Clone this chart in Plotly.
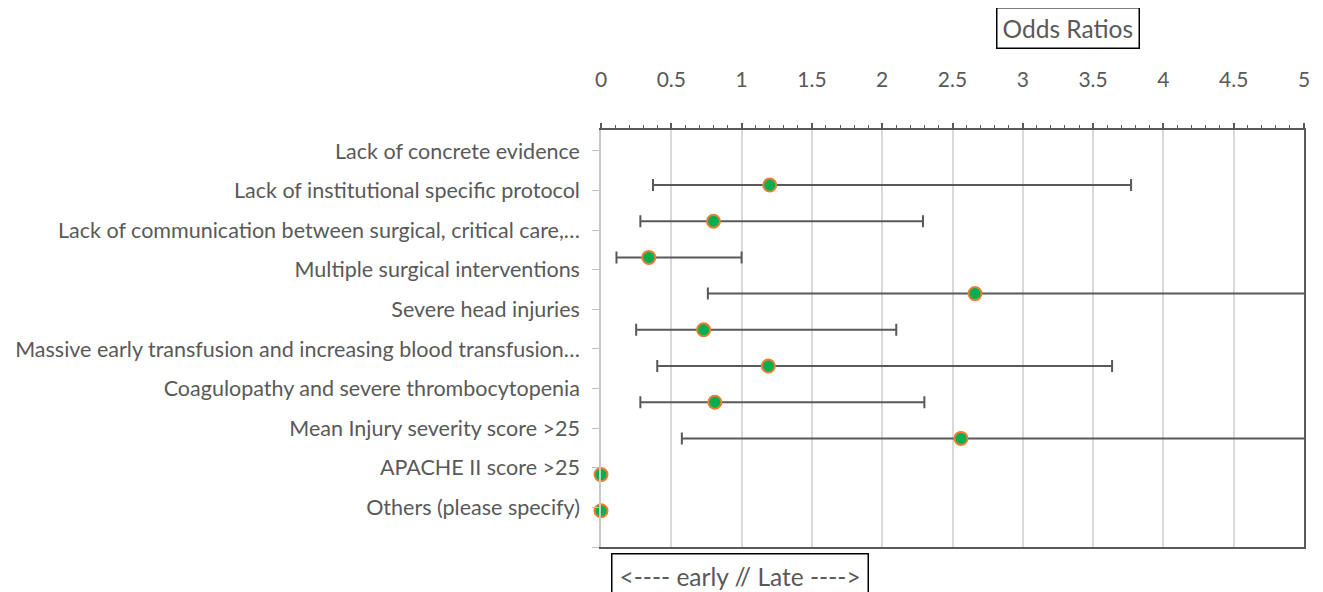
import plotly.graph_objects as go

categories = [
    "Lack of concrete evidence",
    "Lack of institutional specific protocol",
    "Lack of communication between surgical, critical care,…",
    "Multiple surgical interventions",
    "Severe head injuries",
    "Massive early transfusion and increasing blood transfusion…",
    "Coagulopathy and severe thrombocytopenia",
    "Mean Injury severity score >25",
    "APACHE II score >25",
    "Others (please specify)",
]
odds_ratio = [1.20, 0.80, 0.34, 2.66, 0.73, 1.19, 0.81, 2.56, 0.0, 0.0]
ci_lower = [0.37, 0.28, 0.11, 0.76, 0.25, 0.40, 0.28, 0.575, None, None]
ci_upper = [3.77, 2.29, 1.00, 9.3, 2.10, 3.635, 2.30, 11.4, None, None]
x_ticks = [0, 0.5, 1, 1.5, 2, 2.5, 3, 3.5, 4, 4.5, 5]

n = len(categories)
label_pos = list(range(n))
pos = [n - i for i in range(n)]
err_plus = [None if u is None else u - v for u, v in zip(ci_upper, odds_ratio)]
err_minus = [None if lo is None else v - lo for lo, v in zip(ci_lower, odds_ratio)]

TXT = "#595959"
FONT = "Lato"

fig = go.Figure()
# invisible trace that carries the category (label) axis
fig.add_trace(go.Scatter(
    x=odds_ratio, y=label_pos, yaxis="y", mode="markers",
    marker=dict(size=1, opacity=0), hoverinfo="skip", showlegend=False,
))
fig.add_trace(go.Scatter(
    x=odds_ratio, y=pos, yaxis="y2", mode="markers",
    marker=dict(size=1, opacity=0),
    error_x=dict(type="data", symmetric=False, array=err_plus, arrayminus=err_minus,
                 color="#595959", thickness=2, width=6),
    hoverinfo="skip", showlegend=False,
))
fig.add_trace(go.Scatter(
    x=odds_ratio, y=pos, yaxis="y2", mode="markers", cliponaxis=False,
    marker=dict(size=13, color="#00B050", line=dict(color="#ED7D31", width=2)),
    showlegend=False,
))

fig.update_layout(
    width=1315, height=584,
    margin=dict(l=593, r=19, t=122, b=45, autoexpand=False),
    paper_bgcolor="white", plot_bgcolor="white",
    font=dict(family=FONT, color=TXT, size=21.5),
    xaxis=dict(
        range=[0, 5], side="top", anchor="y", automargin=False,
        tickvals=x_ticks, ticktext=[f"{v:g}" for v in x_ticks],
        ticks="outside", ticklen=5, tickwidth=1.5, tickcolor="#595959",
        minor=dict(dtick=0.1, ticks="outside", ticklen=3, tickwidth=1.2, tickcolor="#595959", showgrid=False),
        showgrid=True, gridcolor="#d9d9d9", gridwidth=1.5,
        showline=True, linecolor="#595959", linewidth=1.5, mirror=True,
        ticklabelstandoff=28, zeroline=False,
        tickfont=dict(size=21, color=TXT, family=FONT),
    ),
    xaxis2=dict(
        range=[0, 5], overlaying="x", side="top", anchor="y", automargin=False,
        tickvals=x_ticks, ticks="inside", ticklen=5, tickwidth=1.5, tickcolor="#595959",
        minor=dict(dtick=0.1, ticks="inside", ticklen=3, tickwidth=1.2, tickcolor="#595959", showgrid=False),
        showticklabels=False, showgrid=False, showline=False, zeroline=False,
    ),
    yaxis=dict(
        range=[n, -0.53], automargin=False,
        tickvals=list(range(n + 1)), ticktext=categories + [""],
        ticks="outside", ticklen=7, tickwidth=1.2, tickcolor="#bfbfbf",
        showline=True, linecolor="#c8c8c8", linewidth=1.5,
        showgrid=False, zeroline=False, ticklabelstandoff=8,
        tickfont=dict(size=21.5, color=TXT, family=FONT),
    ),
    yaxis2=dict(
        range=[0, 11.52], overlaying="y", side="right", anchor="x", automargin=False,
        showticklabels=False, ticks="", showgrid=False, zeroline=False,
        showline=True, linecolor="#595959", linewidth=1.5,
    ),
    annotations=[
        dict(text="Odds Ratios", xref="paper", yref="paper", x=0.664, y=1.245,
             xanchor="center", yanchor="middle", showarrow=False,
             font=dict(size=24.5, color=TXT, family=FONT),
             bordercolor="black", borderwidth=1.5, borderpad=5, bgcolor="white"),
        dict(text="&lt;---- early // Late ----&gt;", xref="paper", yref="paper", x=0.198, y=-0.069,
             xanchor="center", yanchor="middle", showarrow=False,
             font=dict(size=24.5, color=TXT, family=FONT),
             bordercolor="black", borderwidth=1.5, borderpad=7, bgcolor="white"),
    ],
)

fig.write_html("out.html")
